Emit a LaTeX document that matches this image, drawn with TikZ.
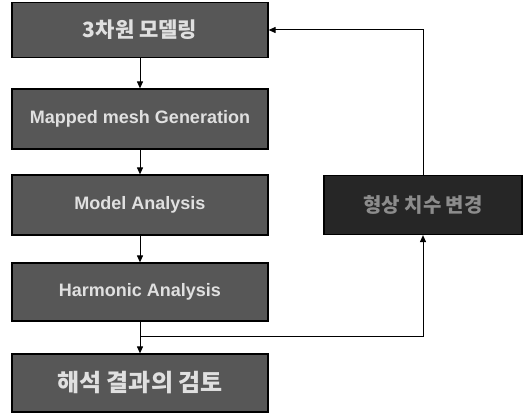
\documentclass[tikz,border=0pt]{standalone}
\usepackage{fontspec}
\setmainfont{Liberation Sans}
\newfontfamily\kr{Noto Sans CJK KR}
\usetikzlibrary{arrows.meta}
\begin{document}
\begin{tikzpicture}[x=1pt,y=-1pt,
  box/.style={draw=black, line width=1.2pt, fill=black!66, text=black!12, font=\bfseries\fontsize{18}{20}\selectfont, inner sep=0pt},
  conn/.style={line width=1pt, -{Triangle[length=7pt,width=6pt]}}]
\useasboundingbox (0,0) rectangle (528,414);
\node[box, minimum width=256, minimum height=55] (b1) at (140,30) {\kr\fontsize{21}{23}\selectfont 3차원 모델링};
\node[box, minimum width=256, minimum height=60] (b2) at (140,119) {Mapped mesh Generation};
\node[box, minimum width=256, minimum height=60] (b3) at (140,205) {Model Analysis};
\node[box, minimum width=256, minimum height=58] (b4) at (140,292) {Harmonic Analysis};
\node[box, minimum width=256, minimum height=58] (b5) at (140,383) {\kr\fontsize{24}{26}\selectfont 해석 결과의 검토};
\node[box, fill=black!85, text=black!45, minimum width=198, minimum height=59] (r) at (423,205) {\kr\fontsize{20}{22}\selectfont 형상 치수 변경};
\coordinate (j) at (b4.south |- 0,337);
\coordinate (jr) at (r.south |- 0,337);
\coordinate (tr) at (r.north |- b1.east);
\draw[conn] (b1) -- (b2);
\draw[conn] (b2) -- (b3);
\draw[conn] (b3) -- (b4);
\draw[conn] (b4) -- (b5);
\draw[conn] (j) -- (jr) -- (r.south);
\draw[conn] (r.north) -- (tr) -- (b1.east);
\end{tikzpicture}
\end{document}
